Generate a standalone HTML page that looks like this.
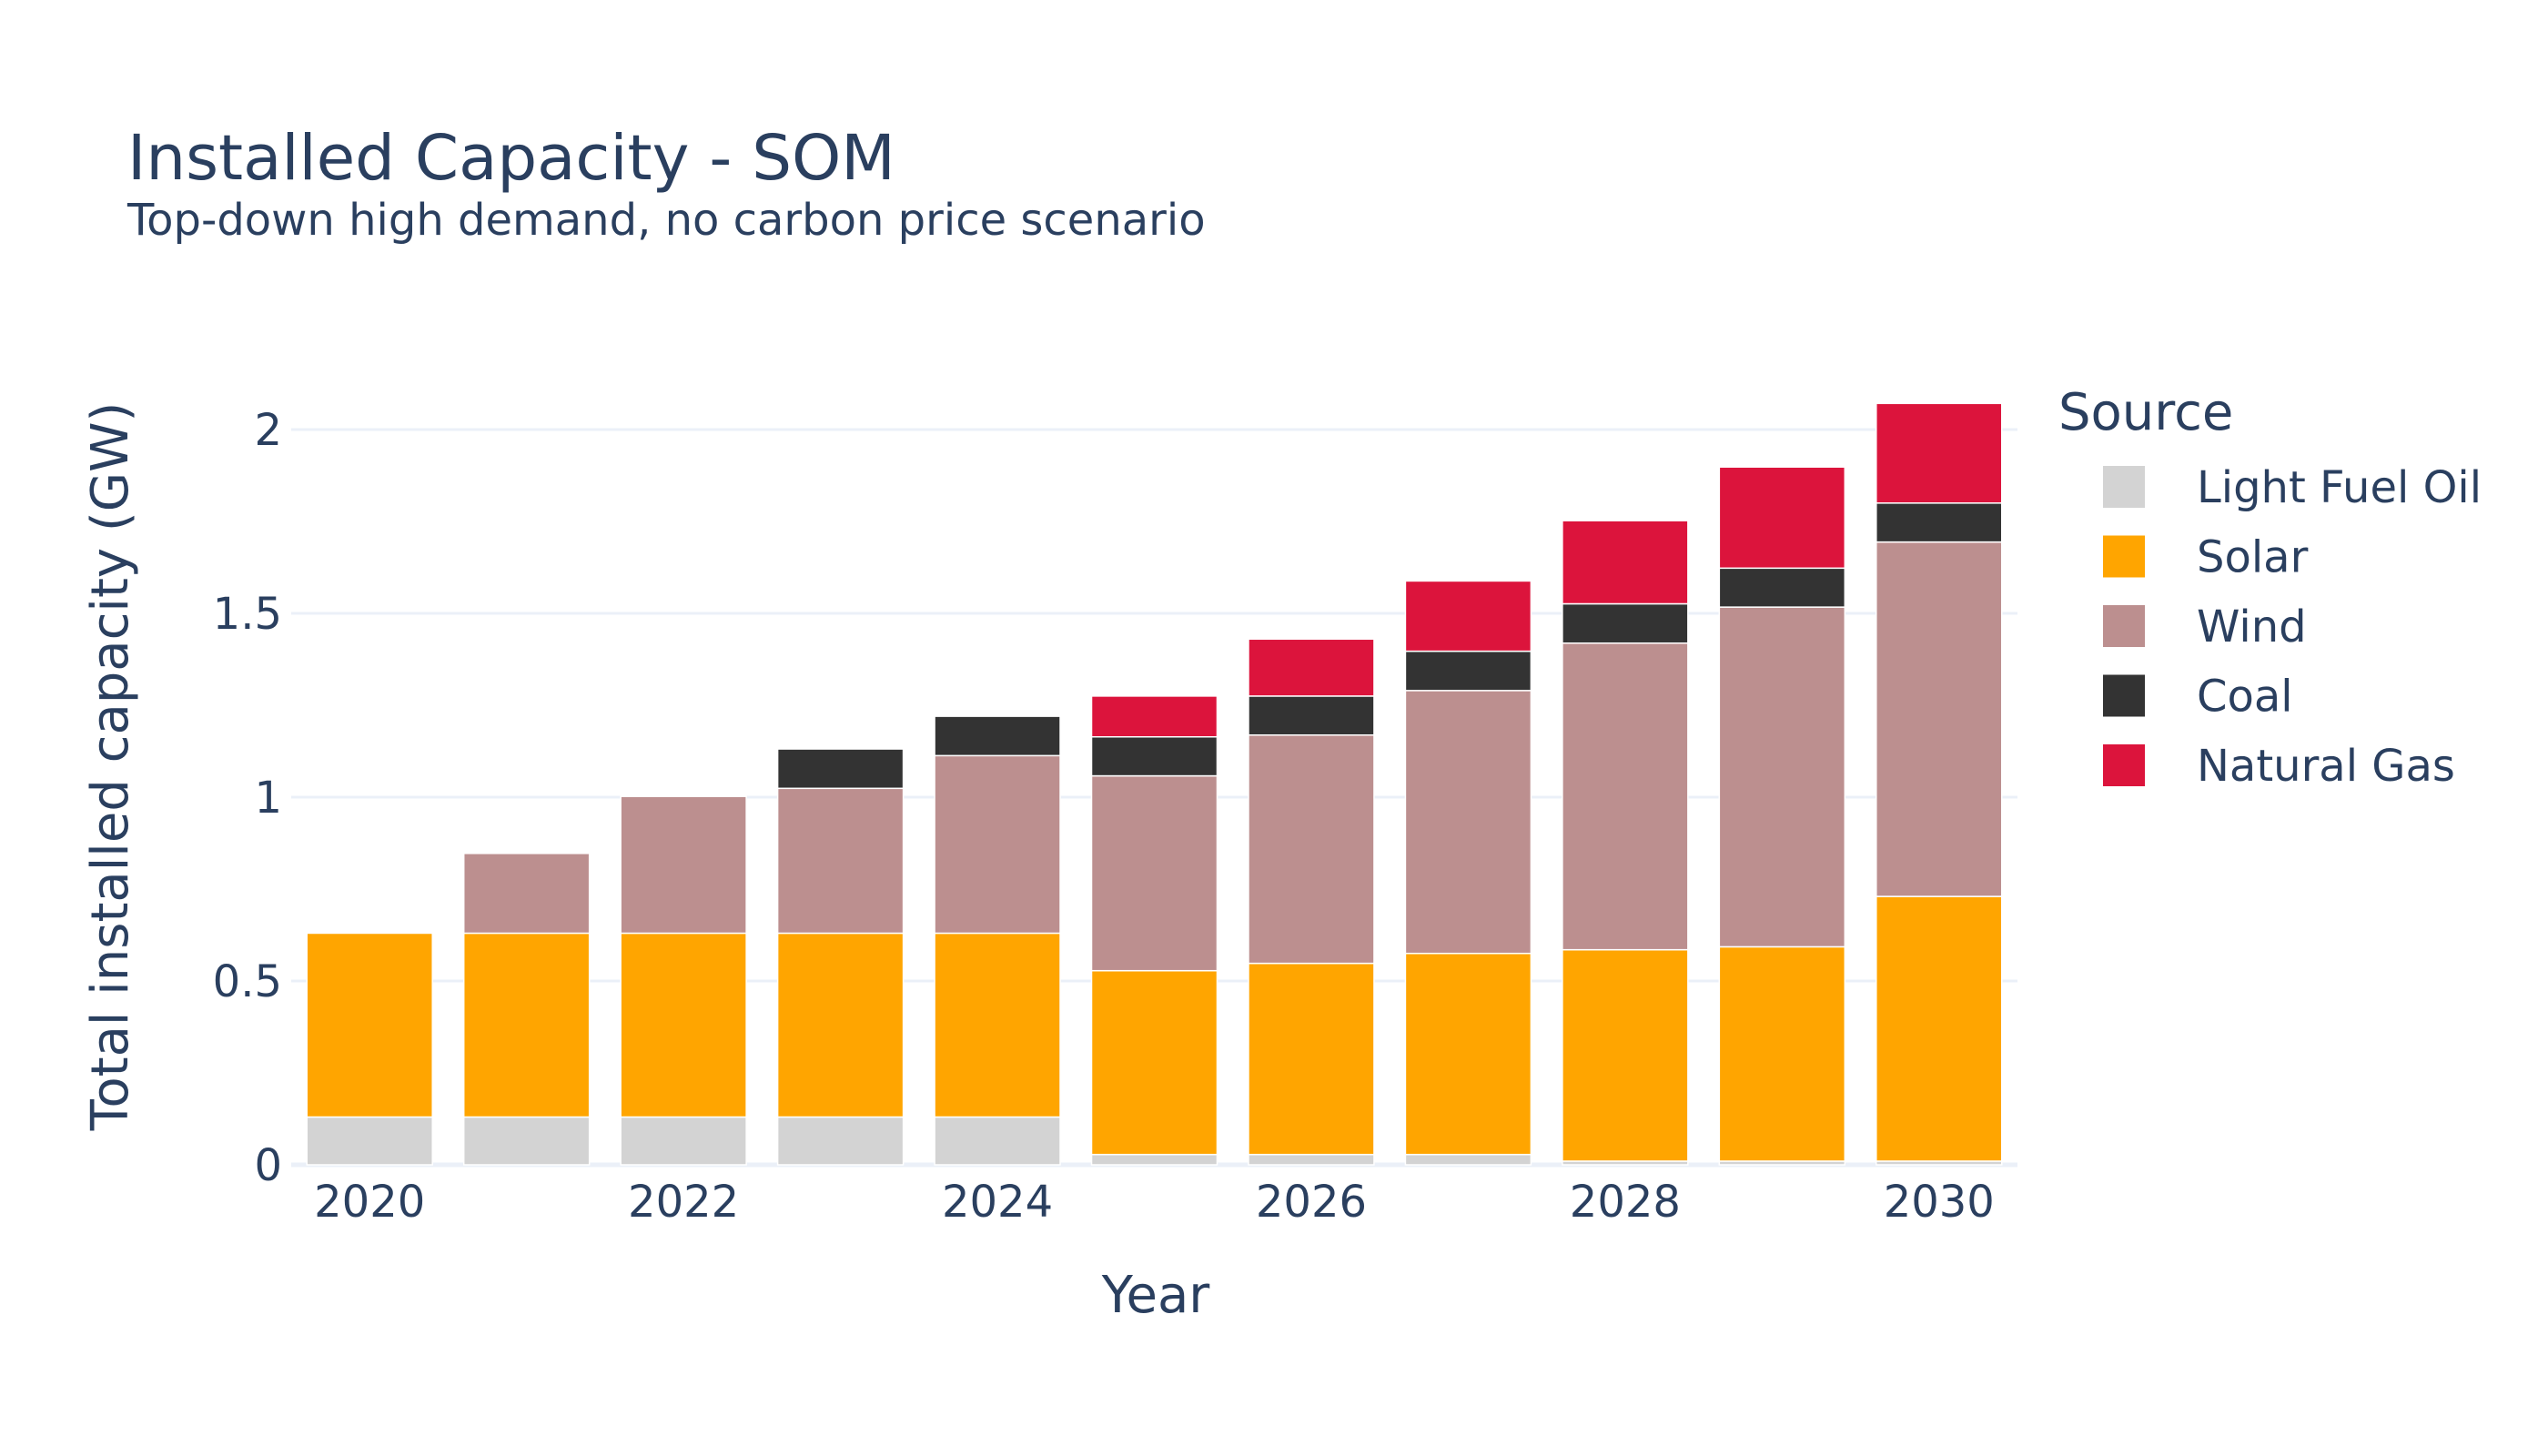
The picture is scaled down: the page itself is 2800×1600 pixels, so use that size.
<!DOCTYPE html>
<html><head><meta charset="utf-8"><style>
html,body{margin:0;padding:0;background:#fff;}
svg{display:block;font-family:"DejaVu Sans","Liberation Sans",sans-serif;fill:#2a3f5f;}
</style></head><body>
<svg id="chart" width="2800" height="1600" viewBox="0 0 2800 1600">
<text x="140" y="197" font-size="69">Installed Capacity - SOM</text>
<text x="140" y="258" font-size="48">Top-down high demand, no carbon price scenario</text>
<g id="grid"></g>
<g id="bars"></g>
<g id="xticks"></g>
<g id="yticks"></g>
<text x="1270" y="1442" font-size="56" text-anchor="middle">Year</text>
<text transform="translate(140,842) rotate(-90)" font-size="56" text-anchor="middle">Total installed capacity (GW)</text>
<g id="legend">
<text x="2262" y="472" font-size="56">Source</text>
</g>
</svg>
<script>
const years = [2020,2021,2022,2023,2024,2025,2026,2027,2028,2029,2030];
const seriesNames = ["Light Fuel Oil","Solar","Wind","Coal","Natural Gas"];
const seriesColors = ["#d3d3d3","#ffa500","#bc8f8f","#333333","#dc143c"];
const lfo   = [0.13,0.13,0.13,0.13,0.13,0.028,0.028,0.028,0.01,0.01,0.01];
const solar = [0.50,0.50,0.50,0.50,0.50,0.50,0.52,0.547,0.575,0.583,0.72];
const wind  = [0,0.217,0.372,0.394,0.483,0.53,0.621,0.715,0.834,0.924,0.964];
const coal  = [0,0,0,0.107,0.107,0.106,0.106,0.107,0.107,0.106,0.106];
const gas   = [0,0,0,0,0,0.111,0.155,0.191,0.226,0.275,0.271];
const yTicks = [0,0.5,1,1.5,2];
const yTickLabels = ["0","0.5","1","1.5","2"];
const xTicks = [2020,2022,2024,2026,2028,2030];

const NS="http://www.w3.org/2000/svg";
const plotL=320, plotR=2217, y0px=1280, y2px=472;
const xMin=2019.5, xMax=2030.5;
function xs(v){return plotL+(v-xMin)/(xMax-xMin)*(plotR-plotL);}
function ys(v){return y0px-(v/2)*(y0px-y2px);}
const unit=(plotR-plotL)/(xMax-xMin), bw=unit*0.8;
function mk(tag,attrs,parent){const e=document.createElementNS(NS,tag);for(const k in attrs)e.setAttribute(k,attrs[k]);parent.appendChild(e);return e;}

const grid=document.getElementById('grid');
yTicks.forEach((t,i)=>{
  const l=mk('line',{x1:plotL,x2:plotR,y1:ys(t),y2:ys(t),stroke:'#ebf0f8','stroke-width':t===0?5:3},grid);
  
  
});
const yt=document.getElementById('yticks');
yTicks.forEach((t,i)=>{
  const tx=mk('text',{x:plotL-10,y:ys(t)+17,'font-size':48,'text-anchor':'end'},yt);
  tx.textContent=yTickLabels[i];
  
  
});
const xt=document.getElementById('xticks');
xTicks.forEach(t=>{
  const tx=mk('text',{x:xs(t),y:1337,'font-size':48,'text-anchor':'middle'},xt);
  tx.textContent=String(t);
  
  
});
const all=[lfo,solar,wind,coal,gas];
const bars=document.getElementById('bars');
years.forEach((yr,i)=>{
  let base=0;
  all.forEach((s,k)=>{
    const v=s[i];
    if(v>0){
      const r=mk('rect',{x:xs(yr)-bw/2,y:ys(base+v),width:bw,height:ys(base)-ys(base+v),fill:seriesColors[k],stroke:'#fff','stroke-width':1.5},bars);
      
      
    }
    base+=v;
  });
});
const lg=document.getElementById('legend');
seriesNames.forEach((n,k)=>{
  const cy=535+k*76.5;
  const r=mk('rect',{x:2311,y:cy-23,width:46,height:46,fill:seriesColors[k]},lg);
  
  
  const t=mk('text',{x:2414,y:cy+17,'font-size':48},lg);
  t.textContent=n;
  
  
});
</script>
</body></html>
